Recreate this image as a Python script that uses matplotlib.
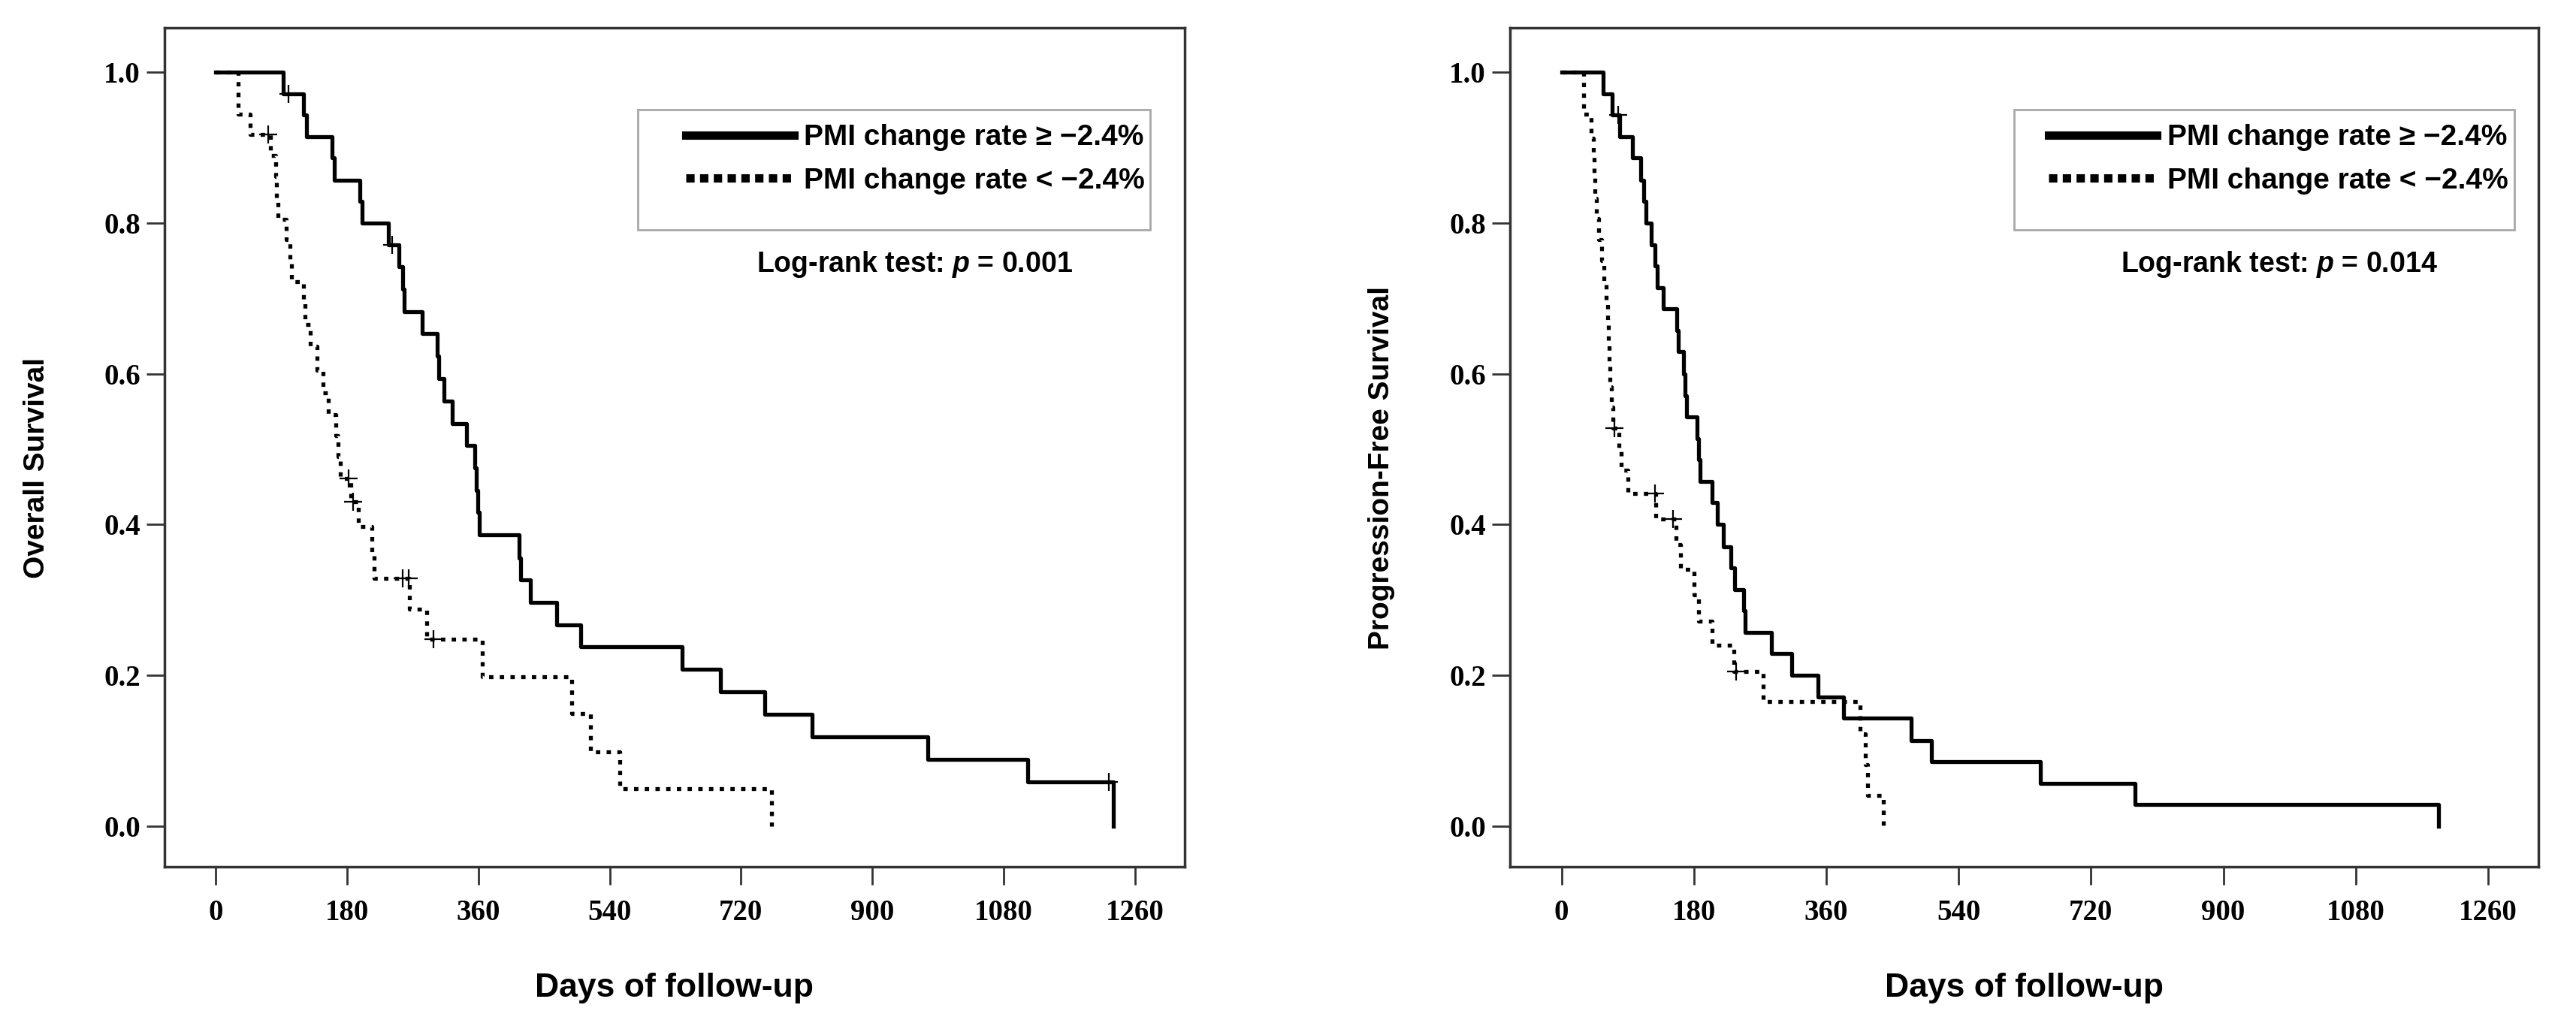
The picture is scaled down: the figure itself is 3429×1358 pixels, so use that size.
import numpy as np
import matplotlib
matplotlib.use("Agg")
import matplotlib.pyplot as plt
from matplotlib.lines import Line2D
from matplotlib.patches import Rectangle

plt.rcParams['font.family'] = ['Liberation Sans', 'DejaVu Sans']
plt.rcParams['mathtext.fontset'] = 'custom'
plt.rcParams['mathtext.rm'] = 'Liberation Sans:bold'
plt.rcParams['mathtext.it'] = 'Liberation Sans:italic:bold'

# --- data (days, survival after each step) ---
# overall survival, PMI change rate >= -2.4%
os_hi_t = [0, 93, 121, 125, 160, 163, 198, 201, 237, 251, 256, 258, 283, 304, 306, 313, 324, 344,
           355, 357, 359, 361, 416, 418, 431, 467, 500, 639, 692, 753, 817, 976, 1113, 1230]
os_hi_s = [1.0, 0.971, 0.943, 0.914, 0.886, 0.857, 0.829, 0.800, 0.771, 0.742, 0.712, 0.682, 0.653,
           0.623, 0.594, 0.564, 0.534, 0.505, 0.475, 0.445, 0.416, 0.386, 0.356, 0.327, 0.297, 0.267,
           0.238, 0.208, 0.178, 0.148, 0.119, 0.089, 0.059, 0.0]
os_hi_cens = [100, 242, 1224]

# overall survival, PMI change rate < -2.4%
os_lo_t = [0, 31, 47, 75, 82, 84, 86, 97, 102, 104, 121, 123, 130, 139, 147, 155, 165, 168, 171,
           185, 196, 214, 217, 266, 289, 366, 488, 514, 554, 762]
os_lo_s = [1.0, 0.944, 0.917, 0.889, 0.861, 0.833, 0.805, 0.778, 0.750, 0.722, 0.694, 0.665, 0.636,
           0.605, 0.575, 0.546, 0.518, 0.490, 0.461, 0.430, 0.397, 0.363, 0.329, 0.288, 0.248, 0.198,
           0.149, 0.099, 0.050, 0.0]
os_lo_cens = [72, 182, 188, 256, 265, 299]

# progression-free survival, PMI change rate >= -2.4%
pfs_hi_t = [0, 57, 69, 79, 97, 108, 112, 115, 122, 127, 130, 138, 157, 159, 166, 168, 170, 184, 186,
            188, 205, 212, 220, 230, 235, 248, 250, 285, 313, 349, 384, 475, 503, 651, 780, 1193]
pfs_hi_s = [1.0, 0.971, 0.943, 0.914, 0.886, 0.857, 0.829, 0.800, 0.771, 0.743, 0.714, 0.686, 0.657,
            0.629, 0.600, 0.571, 0.543, 0.514, 0.486, 0.457, 0.429, 0.400, 0.371, 0.343, 0.314, 0.286,
            0.257, 0.229, 0.200, 0.171, 0.143, 0.114, 0.086, 0.057, 0.029, 0.0]
pfs_hi_cens = [77]

# progression-free survival, PMI change rate < -2.4%
pfs_lo_t = [0, 30, 40, 43, 44, 45, 48, 51, 55, 58, 61, 63, 64, 65, 66, 68, 70, 78, 81, 90, 128, 156,
            162, 180, 186, 205, 234, 274, 406, 413, 416, 438]
pfs_lo_s = [1.0, 0.944, 0.912, 0.889, 0.861, 0.833, 0.806, 0.778, 0.750, 0.722, 0.694, 0.667, 0.639,
            0.611, 0.583, 0.556, 0.528, 0.500, 0.472, 0.441, 0.407, 0.374, 0.341, 0.307, 0.272, 0.240,
            0.205, 0.165, 0.123, 0.082, 0.041, 0.0]
pfs_lo_cens = [72, 127, 152, 237]

xticks = [0, 180, 360, 540, 720, 900, 1080, 1260]
yticks = [0.0, 0.2, 0.4, 0.6, 0.8, 1.0]
labels = ["PMI change rate \u2265 \u22122.4%", "PMI change rate < \u22122.4%"]
ylabels = ["Overall Survival", "Progression-Free Survival"]
pvals = ["0.001", "0.014"]

DOT = (0, (1.1, 1.6))
FRAME = '#333333'


def km(ax, t, s, cens, ls):
    ax.step(t, s, where='post', color='black', lw=3.8, linestyle=ls)
    t = np.asarray(t)
    cy = [s[np.searchsorted(t, c, side='right') - 1] for c in cens]
    ax.plot(cens, cy, linestyle='none', marker='+', ms=17, mew=1.6, color='black')


fig = plt.figure(figsize=(34.3, 13.58), dpi=100)
ax1 = fig.add_axes([0.0638, 0.150, 0.396, 0.823])
ax2 = fig.add_axes([0.586, 0.150, 0.399, 0.823])

km(ax1, os_hi_t, os_hi_s, os_hi_cens, '-')
km(ax1, os_lo_t, os_lo_s, os_lo_cens, DOT)
km(ax2, pfs_hi_t, pfs_hi_s, pfs_hi_cens, '-')
km(ax2, pfs_lo_t, pfs_lo_s, pfs_lo_cens, DOT)

# legend box placement (axes fraction): box x0, width, handle start
boxes = [(0.464, 0.502, 0.511), (0.490, 0.487, 0.524)]
ptext_x = [0.735, 0.748]

for i, ax in enumerate([ax1, ax2]):
    ax.set_xlim(-70, 1328)
    ax.set_ylim(-0.054, 1.059)
    ax.set_xticks(xticks)
    ax.set_yticks(yticks)
    ax.set_xticklabels([str(v) for v in xticks])
    ax.set_yticklabels(["%.1f" % v for v in yticks])
    for lab in ax.get_xticklabels() + ax.get_yticklabels():
        lab.set_family('Liberation Serif')
        lab.set_fontweight('bold')
        lab.set_fontsize(28)
    ax.tick_params(axis='both', direction='out', length=17, width=2, color=FRAME)
    ax.tick_params(axis='x', pad=14)
    ax.tick_params(axis='y', pad=6)
    for sp in ax.spines.values():
        sp.set_linewidth(2.5)
        sp.set_color(FRAME)

    ax.set_xlabel("Days of follow-up", fontsize=32, fontweight='bold')
    ax.xaxis.set_label_coords(0.5, -0.126)
    ax.set_ylabel(ylabels[i], fontsize=28, fontweight='bold')
    ax.yaxis.set_label_coords(-0.112, 0.475)

    bx, bw, hx = boxes[i]
    ax.add_patch(Rectangle((bx, 0.759), bw, 0.1435, transform=ax.transAxes,
                           fill=False, edgecolor='#a8a8a8', lw=2))
    handles = [Line2D([], [], color='black', lw=8),
               Line2D([], [], color='black', lw=8, linestyle=(0, (1.0, 0.65)))]
    ax.legend(handles, labels, loc='upper left', bbox_to_anchor=(hx, 0.885),
              frameon=False, prop={'weight': 'bold', 'size': 28},
              borderpad=0, borderaxespad=0, handlelength=3.7, handletextpad=0.35,
              labelspacing=0.55)

    ax.text(ptext_x[i], 0.718, "Log-rank test: $p$ = " + pvals[i], transform=ax.transAxes,
            ha='center', va='center', fontsize=27, fontweight='bold')

fig.savefig("out.png", dpi=100, facecolor='white')
